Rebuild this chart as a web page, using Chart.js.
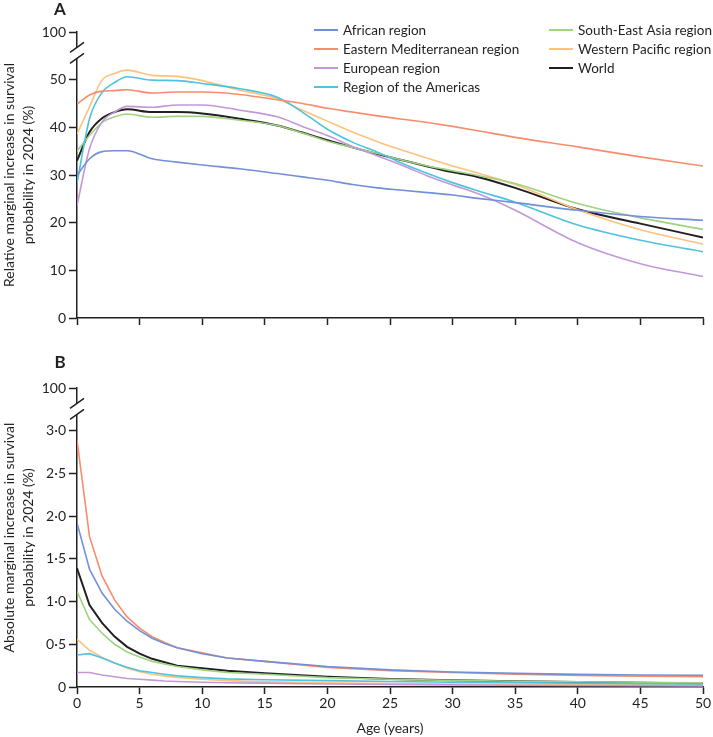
<!DOCTYPE html>
<html>
<head>
<meta charset="utf-8">
<script src="https://cdn.jsdelivr.net/npm/chart.js@4.4.0/dist/chart.umd.min.js"></script>
<style>
  html, body { margin: 0; padding: 0; background: #fff; }
  #wrap { position: relative; width: 713px; height: 737px; }
  canvas { position: absolute; left: 0; }
  #chartA { top: 0; width: 713px; height: 340px; }
  #chartB { top: 340px; width: 713px; height: 397px; }
</style>
</head>
<body>
<div id="wrap">
  <canvas id="chartA" width="713" height="340"></canvas>
  <canvas id="chartB" width="713" height="397"></canvas>
</div>
<script>
// regions, in legend order
const regions = [
  "African region",
  "Eastern Mediterranean region",
  "European region",
  "Region of the Americas",
  "South-East Asia region",
  "Western Pacific region",
  "World",
];
const colors = ["#7190d8", "#f88c6c", "#c298d8", "#4ec2e0", "#9fd281", "#fdc27c", "#231f20"];

// panel A: relative marginal increase (%)
const agesA = [0, 1, 2, 3, 4, 6, 8, 10, 13, 16, 18, 20, 22, 24, 26, 28, 30, 32, 35, 40, 45, 50];
const relAfrican  = [29.9, 33.4, 34.9, 35.1, 35.1, 33.4, 32.7, 32.1, 31.3, 30.3, 29.6, 28.9, 28.0, 27.3, 26.8, 26.3, 25.8, 25.1, 24.2, 22.6, 21.3, 20.5];
const relEastMed  = [44.9, 46.8, 47.6, 47.7, 47.9, 47.2, 47.4, 47.4, 46.9, 45.8, 45.0, 44.0, 43.2, 42.4, 41.7, 41.0, 40.2, 39.3, 37.9, 35.9, 33.8, 31.9];
const relEuropean = [23.6, 35.5, 41.1, 43.2, 44.4, 44.2, 44.7, 44.7, 43.6, 42.2, 40.2, 38.3, 36.0, 34.0, 32.0, 29.8, 27.9, 26.1, 22.6, 15.8, 11.4, 8.7];
const relAmericas = [28.3, 41.8, 47.3, 49.4, 50.6, 49.9, 49.8, 49.2, 48.1, 46.3, 43.2, 39.6, 36.9, 34.8, 32.4, 30.3, 28.4, 26.7, 24.3, 19.5, 16.3, 13.9];
const relSEAsia   = [35.0, 38.3, 41.0, 42.2, 42.8, 42.1, 42.3, 42.3, 41.5, 40.4, 38.8, 37.1, 35.8, 34.5, 33.1, 31.9, 30.9, 29.9, 28.2, 24.0, 21.0, 18.6];
const relWestPac  = [38.6, 44.3, 49.9, 51.3, 52.0, 50.9, 50.7, 49.8, 47.8, 46.0, 43.6, 41.3, 39.0, 37.0, 35.2, 33.5, 31.9, 30.4, 28.0, 22.7, 18.5, 15.5];
const relWorld    = [33.0, 39.0, 41.9, 43.2, 43.8, 43.2, 43.2, 42.9, 41.8, 40.4, 38.9, 37.3, 35.8, 34.4, 33.1, 31.8, 30.6, 29.6, 27.3, 22.8, 19.8, 16.9];

// panel B: absolute marginal increase (%)
const agesB = [0, 1, 2, 3, 4, 5, 6, 7, 8, 10, 12, 15, 20, 25, 30, 35, 40, 45, 50];
const absAfrican  = [1.92, 1.38, 1.10, 0.91, 0.77, 0.66, 0.57, 0.51, 0.46, 0.39, 0.34, 0.30, 0.24, 0.20, 0.176, 0.16, 0.148, 0.14, 0.137];
const absEastMed  = [2.89, 1.76, 1.30, 1.02, 0.82, 0.69, 0.59, 0.52, 0.46, 0.40, 0.34, 0.30, 0.23, 0.19, 0.17, 0.15, 0.136, 0.125, 0.12];
const absEuropean = [0.17, 0.17, 0.14, 0.12, 0.10, 0.09, 0.08, 0.07, 0.065, 0.055, 0.05, 0.045, 0.035, 0.03, 0.025, 0.02, 0.018, 0.015, 0.012];
const absAmericas = [0.375, 0.39, 0.34, 0.28, 0.23, 0.19, 0.17, 0.15, 0.13, 0.11, 0.095, 0.085, 0.075, 0.065, 0.055, 0.05, 0.045, 0.04, 0.035];
const absSEAsia   = [1.12, 0.79, 0.63, 0.50, 0.41, 0.35, 0.30, 0.27, 0.24, 0.20, 0.17, 0.15, 0.11, 0.09, 0.078, 0.068, 0.062, 0.055, 0.048];
const absWestPac  = [0.56, 0.43, 0.35, 0.28, 0.22, 0.18, 0.15, 0.13, 0.113, 0.09, 0.075, 0.06, 0.05, 0.04, 0.035, 0.03, 0.028, 0.025, 0.022];
const absWorld    = [1.39, 0.96, 0.75, 0.59, 0.47, 0.39, 0.33, 0.29, 0.25, 0.22, 0.19, 0.16, 0.12, 0.095, 0.078, 0.066, 0.058, 0.05, 0.04];

const relSeries = [relAfrican, relEastMed, relEuropean, relAmericas, relSEAsia, relWestPac, relWorld];
const absSeries = [absAfrican, absEastMed, absEuropean, absAmericas, absSEAsia, absWestPac, absWorld];

const INK = "#231f20";
const FONT = "Lato";
Chart.defaults.font.family = FONT;
Chart.defaults.color = INK;

function makeDatasets(ages, series, smooth) {
  return series.map((vals, i) => ({
    label: regions[i],
    data: vals.map((v, j) => ({ x: ages[j], y: v })),
    borderColor: colors[i],
    backgroundColor: colors[i],
    borderWidth: i === 6 ? 2 : 1.6,
    pointRadius: 0,
    tension: 0,
    cubicInterpolationMode: smooth ? "monotone" : "default",
    fill: false,
  }));
}

// white gap + "//" on the y axis between the top tick and the rest
function breakPlugin(gapValue) {
  return {
    id: "axisBreak",
    afterDraw(chart) {
      const ctx = chart.ctx;
      const x = chart.chartArea.left;
      const yc = chart.scales.y.getPixelForValue(gapValue);
      ctx.save();
      ctx.fillStyle = "#fff";
      ctx.fillRect(x - 3, yc - 5.5, 6, 11);
      ctx.strokeStyle = INK;
      ctx.lineWidth = 1.5;
      [-5.5, 5.5].forEach((d) => {
        ctx.beginPath();
        ctx.moveTo(x - 7, yc + d + 5);
        ctx.lineTo(x + 7, yc + d - 5);
        ctx.stroke();
      });
      ctx.restore();
    },
  };
}

function letterPlugin(letter, x, y) {
  return {
    id: "panelLetter",
    afterDraw(chart) {
      const ctx = chart.ctx;
      ctx.save();
      ctx.font = "bold 17px " + FONT;
      ctx.fillStyle = INK;
      ctx.textAlign = "center";
      ctx.textBaseline = "middle";
      ctx.fillText(letter, x, y);
      ctx.restore();
    },
  };
}

// two-column legend in the top right of panel A
const legendCols = [314, 549];
const legendTop = 30;
const legendRow = 19;
const legendPlugin = {
  id: "cornerLegend",
  afterDraw(chart) {
    const ctx = chart.ctx;
    ctx.save();
    ctx.font = "13.5px " + FONT;
    ctx.textBaseline = "middle";
    ctx.textAlign = "left";
    chart.data.datasets.forEach((ds, i) => {
      const col = i < 4 ? 0 : 1;
      const row = i < 4 ? i : i - 4;
      const x = legendCols[col];
      const y = legendTop + row * legendRow;
      ctx.strokeStyle = ds.borderColor;
      ctx.lineWidth = 2;
      ctx.beginPath();
      ctx.moveTo(x, y);
      ctx.lineTo(x + 24, y);
      ctx.stroke();
      ctx.fillStyle = INK;
      ctx.fillText(ds.label, x + 29, y + 1);
    });
    ctx.restore();
  },
};

function baseOptions(o) {
  return {
    responsive: false,
    animation: false,
    layout: { padding: { top: o.top, right: 10, left: 0, bottom: 0 } },
    plugins: { legend: { display: false }, tooltip: { enabled: false } },
    scales: {
      x: {
        type: "linear",
        min: 0,
        max: 50,
        afterFit: (s) => { s.height = o.xHeight; },
        border: { color: INK, width: 1.5 },
        grid: { drawOnChartArea: false, tickLength: 7, tickWidth: 1.5, tickColor: INK },
        ticks: { display: o.xLabels, stepSize: 5, padding: 1, font: { size: 14 }, color: INK },
        title: {
          display: o.xLabels,
          text: "Age (years)",
          font: { size: 14 },
          padding: { top: 0, bottom: 0 },
          color: INK,
        },
      },
      y: {
        min: 0,
        max: o.yMax,
        afterFit: (s) => { s.width = 77; },
        border: { color: INK, width: 1.5 },
        grid: { drawOnChartArea: false, tickLength: 8, tickWidth: 1.5, tickColor: INK },
        ticks: { stepSize: o.yStep, padding: 3, font: { size: 14 }, color: INK, callback: o.fmt },
        title: {
          display: true,
          text: o.yTitle,
          font: { size: 14, lineHeight: 1.35 },
          padding: { top: 0, bottom: 0 },
          color: INK,
        },
      },
    },
  };
}

const chartA = new Chart(document.getElementById("chartA"), {
  type: "line",
  data: { datasets: makeDatasets(agesA, relSeries, true) },
  options: baseOptions({
    top: 32,
    xHeight: 22,
    xLabels: false,
    yMax: 60,
    yStep: 10,
    fmt: (v) => (v === 60 ? "100" : String(v)),
    yTitle: ["Relative marginal increase in survival", "probability in 2024 (%)"],
  }),
  plugins: [breakPlugin(55.6), letterPlugin("A", 60, 10), legendPlugin],
});

const chartB = new Chart(document.getElementById("chartB"), {
  type: "line",
  data: { datasets: makeDatasets(agesB, absSeries, false) },
  options: baseOptions({
    top: 48,
    xHeight: 50,
    xLabels: true,
    yMax: 3.5,
    yStep: 0.5,
    fmt: (v) => (v === 3.5 ? "100" : v === 0 ? "0" : v.toFixed(1).replace(".", "\u00b7")),
    yTitle: ["Absolute marginal increase in survival", "probability in 2024 (%)"],
  }),
  plugins: [breakPlugin(3.255), letterPlugin("B", 60, 23)],
});
</script>
</body>
</html>
